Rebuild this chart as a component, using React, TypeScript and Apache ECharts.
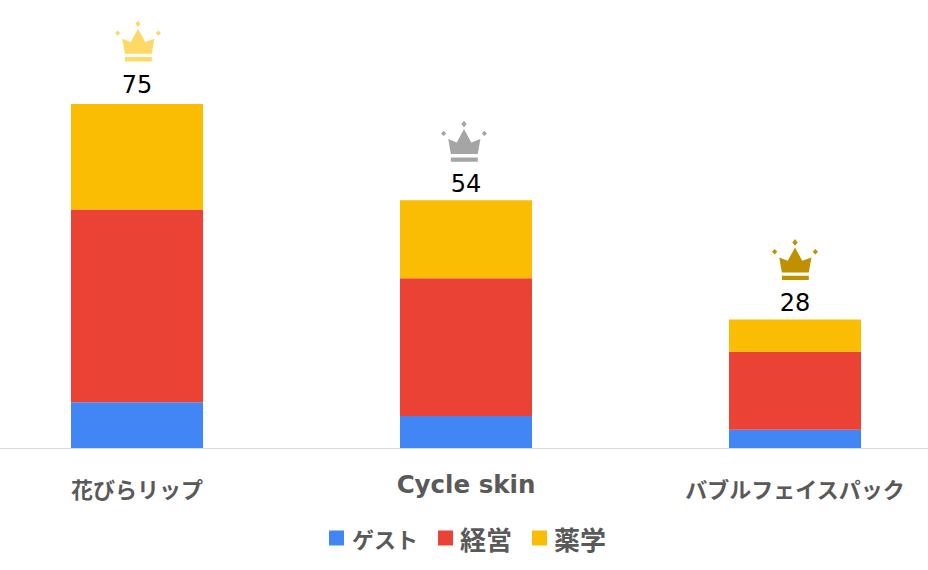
import React, { useEffect, useRef } from "react";
import * as echarts from "echarts";

const categories = ["花びらリップ", "Cycle skin", "バブルフェイスパック"];
const guest = [10, 7, 4];
const management = [42, 30, 17];
const pharmacy = [23, 17, 7];
const totals = [75, 54, 28];

const CROWN_PATH =
  "path://M97 85L123 95L145 55L167 95L195 85L187 130L105 130Z" +
  "M105 140L187 140L187 153L105 153Z" +
  "M145 30L153 40L145 50L137 40Z" +
  "M83 60L91 68L83 76L75 68Z" +
  "M207 60L215 68L207 76L199 68Z";
const crownColors = ["#FFD966", "#A5A5A5", "#BF9000"];
const crownLift = [63, 59, 60];
const crownShift = [1, -2, 0];
const labelLift = [7, 4, 5];

export default function App() {
  const ref = useRef<HTMLDivElement>(null);
  useEffect(() => {
    const chart = echarts.init(ref.current!, null, { renderer: "svg" });
    const jp = '"Noto Sans CJK JP"';
    chart.setOption({
      animation: false,
      backgroundColor: "#ffffff",
      grid: { left: -27.5, right: -31.5, top: 81, bottom: 122, containLabel: false, outerBoundsMode: "none" },
      legend: {
        data: ["ゲスト", "経営", "薬学"],
        left: 329,
        top: 525,
        padding: 0,
        itemWidth: 15,
        itemHeight: 15,
        itemGap: 20,
        selectedMode: false,
        icon: "rect",
        formatter: (n: string) => (n === "ゲスト" ? `{k|${n}}` : `{c|${n}}`),
        textStyle: {
          rich: {
            k: { fontFamily: jp, fontWeight: "bold", fontSize: 22, color: "#595959", height: 30, padding: [0, 0, 0, 3] },
            c: { fontFamily: jp, fontWeight: "bold", fontSize: 26, color: "#595959", height: 30, padding: [0, 0, 0, 2] },
          },
        },
      },
      xAxis: {
        type: "category",
        data: categories,
        axisTick: { show: false },
        axisLine: { lineStyle: { color: "#D9D9D9", width: 1 } },
        axisLabel: {
          interval: 0,
          margin: 22,
          formatter: (v: string) => (v === "Cycle skin" ? `{en|${v}}` : `{jp|${v}}`),
          rich: {
            jp: { fontFamily: jp, fontWeight: "bold", fontSize: 22, color: "#595959", padding: [4, 0, 0, 0], height: 28 },
            en: { fontFamily: '"DejaVu Sans"', fontWeight: "bold", fontSize: 24.5, color: "#595959", padding: [0, 0, 4, 0], height: 28 },
          },
        },
      },
      yAxis: { type: "value", min: 0, max: 80, interval: 20, show: false },
      series: [
        { name: "ゲスト", type: "bar", stack: "t", barWidth: 132, itemStyle: { color: "#4285F4" }, data: guest },
        { name: "経営", type: "bar", stack: "t", barWidth: 132, itemStyle: { color: "#EA4335" }, data: management },
        {
          name: "薬学",
          type: "bar",
          stack: "t",
          barWidth: 132,
          itemStyle: { color: "#FBBC04" },
          data: pharmacy.map((v, i) => ({
            value: v,
            label: {
              show: true,
              position: "top",
              distance: labelLift[i],
              formatter: String(totals[i]),
              fontFamily: '"DejaVu Sans"',
              fontSize: 24,
              color: "#000000",
            },
          })),
        },
        {
          name: "crown",
          type: "scatter",
          silent: true,
          symbol: CROWN_PATH,
          symbolSize: [46, 41],
          data: totals.map((v, i) => ({
            value: v,
            symbolOffset: [crownShift[i], -crownLift[i]],
            itemStyle: { color: crownColors[i], opacity: 1 },
          })),
        },
      ],
    });
    return () => chart.dispose();
  }, []);
  return <div ref={ref} style={{ position: "fixed", left: 0, top: 0, width: 928, height: 570 }} />;
}
